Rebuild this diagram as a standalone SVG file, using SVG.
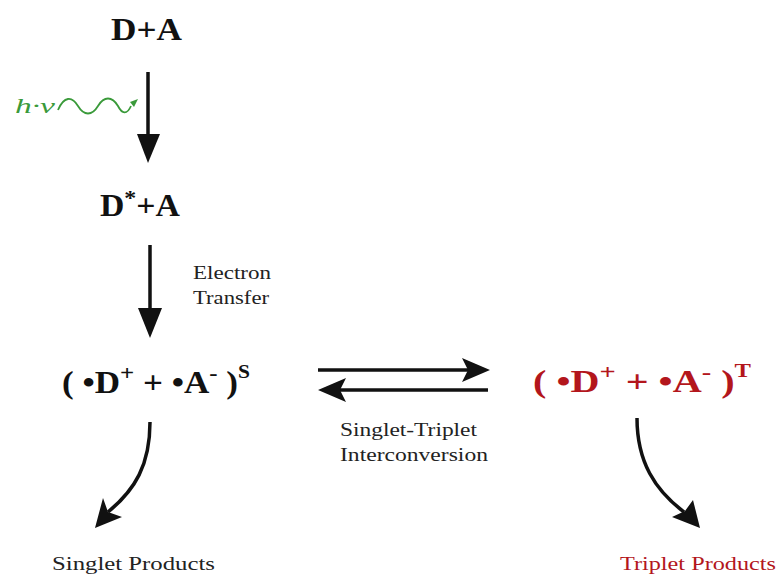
<svg xmlns="http://www.w3.org/2000/svg" width="778" height="577" viewBox="0 0 778 577">
<style>
.big{font-family:"Liberation Serif","Times New Roman",serif;font-weight:bold;font-size:31px;fill:#111}
.lab{font-family:"Liberation Serif","Times New Roman",serif;font-size:19px;fill:#222}
.red{fill:#b3161c}
.ln{stroke:#111;stroke-width:3.5;fill:none}
.sup{font-size:22px}
.ss{font-size:19px}
</style>
<rect width="778" height="577" fill="#fff"/>
<g id="n-DA"><text class="big" x="111" y="40" textLength="71" lengthAdjust="spacingAndGlyphs">D+A</text></g>
<g id="n-DstarA"><text class="big" x="100" y="216" textLength="80" lengthAdjust="spacingAndGlyphs">D<tspan dy="-11" font-size="22">*</tspan><tspan dy="11">+A</tspan></text></g>
<g id="n-S"><text class="big" x="62" y="393" textLength="188" lengthAdjust="spacingAndGlyphs">( •D<tspan class="sup" dy="-13">+</tspan><tspan dy="13"> + •A</tspan><tspan class="sup" dy="-13">-</tspan><tspan dy="13"> )</tspan><tspan class="ss" dy="-15">S</tspan></text></g>
<g id="n-T"><text class="big red" x="533" y="392" textLength="218" lengthAdjust="spacingAndGlyphs">( •D<tspan class="sup" dy="-13">+</tspan><tspan dy="13"> + •A</tspan><tspan class="sup" dy="-13">-</tspan><tspan dy="13"> )</tspan><tspan class="ss" dy="-15">T</tspan></text></g>
<g id="n-SP"><text class="lab" x="52" y="570" textLength="163" lengthAdjust="spacingAndGlyphs">Singlet Products</text></g>
<g id="n-TP"><text class="lab red" x="620" y="570" textLength="156" lengthAdjust="spacingAndGlyphs">Triplet Products</text></g>
<g id="connectors">
<line class="ln" x1="148" y1="72" x2="148" y2="140"/>
<path d="M137,134 L160,134 L148,163 Z" fill="#111"/>
<line class="ln" x1="150" y1="245" x2="150" y2="312"/>
<path d="M138,308 L162,308 L150,338 Z" fill="#111"/>
<line class="ln" x1="318" y1="370" x2="470" y2="370"/>
<path d="M462,358 L490,370 L462,382 L468,370 Z" fill="#111"/>
<line class="ln" x1="338" y1="390" x2="488" y2="390"/>
<path d="M346,378 L318,390 L346,402 L340,390 Z" fill="#111"/>
<path class="ln" d="M150,422 C150,465 135,490 108,512"/>
<path d="M95,528 L103,498 L108,512 L122,517 Z" fill="#111"/>
<path class="ln" d="M637,418 C637,462 655,490 684,512"/>
<path d="M700,528 L672,517 L685,511 L693,500 Z" fill="#111"/>
</g>
<g id="light">
<text x="15" y="113" font-family="'Liberation Serif',serif" font-style="italic" font-size="21" fill="#3a9a3a" textLength="40" lengthAdjust="spacingAndGlyphs">h·ν</text>
<path d="M58,110 C64,96 72,96 78,106 C84,116 92,116 98,106 C104,96 112,96 118,106 C122,114 127,115 131,106" stroke="#3a9a3a" stroke-width="1.8" fill="none"/>
<path d="M138,99 L130,102 L134,107 Z" fill="#3a9a3a"/>
</g>
<g id="labels">
<text class="lab" x="193" y="279" textLength="78" lengthAdjust="spacingAndGlyphs">Electron</text>
<text class="lab" x="193" y="304" textLength="76" lengthAdjust="spacingAndGlyphs">Transfer</text>
<text class="lab" x="340" y="436" textLength="137" lengthAdjust="spacingAndGlyphs">Singlet-Triplet</text>
<text class="lab" x="340" y="461" textLength="148" lengthAdjust="spacingAndGlyphs">Interconversion</text>
</g>
</svg>
